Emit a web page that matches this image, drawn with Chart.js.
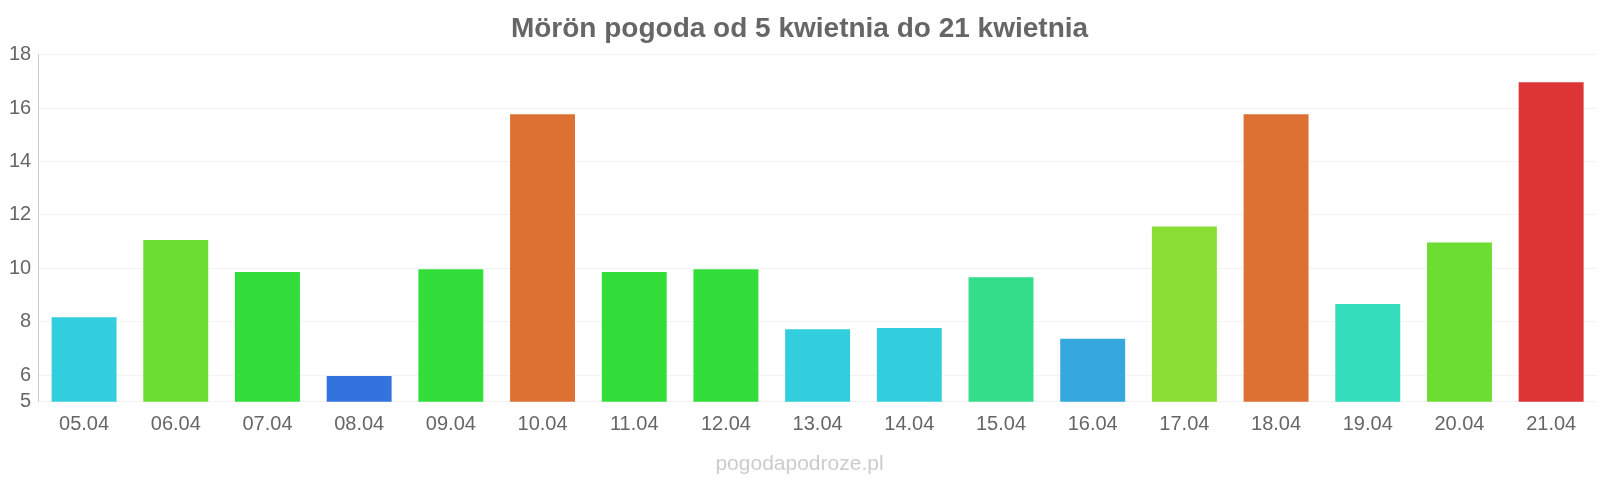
<!DOCTYPE html>
<html>
<head>
<meta charset="utf-8">
<script src="https://cdn.jsdelivr.net/npm/chart.js@4/dist/chart.umd.min.js"></script>
<style>
  html, body { margin: 0; padding: 0; background: #fff; overflow: hidden; }
  #wrap { width: 1600px; height: 480px; position: relative; }
  canvas { display: block; }
</style>
</head>
<body>
<div id="wrap"><canvas id="chart"></canvas></div>
<script>
// dates and temperatures
const days = ['05.04', '06.04', '07.04', '08.04', '09.04', '10.04', '11.04', '12.04', '13.04',
              '14.04', '15.04', '16.04', '17.04', '18.04', '19.04', '20.04', '21.04'];
const temps = [8.2, 11.1, 9.9, 6.0, 10.0, 15.8, 9.9, 10.0, 7.75, 7.8, 9.7, 7.4, 11.6, 15.8, 8.7, 11.0, 17.0];
const barColors = ['#33cedd', '#6bdd33', '#33dd3a', '#3373dd', '#33dd3a', '#dd7033', '#33dd3a', '#33dd3a', '#33cedd',
                   '#33cedd', '#33dd8a', '#35a8dd', '#8add33', '#dd7033', '#33ddbb', '#6bdd33', '#dd3535'];
const yTicks = [5, 6, 8, 10, 12, 14, 16, 18];

const ctx = document.getElementById('chart').getContext('2d');
new Chart(ctx, {
    type: 'bar',
    data: {
        labels: days,
        datasets: [{
            data: temps,
            backgroundColor: barColors,
            borderColor: 'rgba(255,255,255,0.35)',
            borderWidth: 1,
            barPercentage: 0.73,
            categoryPercentage: 1.0
        }]
    },
    options: {
        responsive: true,
        maintainAspectRatio: false,
        animation: false,
        layout: { padding: { left: 2, right: 3, top: 0, bottom: 0 } },
        plugins: {
            legend: { display: false },
            tooltip: { enabled: false },
            title: {
                display: true,
                text: 'Mörön pogoda od 5 kwietnia do 21 kwietnia',
                color: '#666',
                font: { family: 'Liberation Sans, Arial, sans-serif', size: 28, weight: 'bold' },
                padding: { top: 12, bottom: 9 }
            },
            subtitle: {
                display: true,
                position: 'bottom',
                text: 'pogodapodroze.pl',
                color: '#ccc',
                font: { family: 'Liberation Sans, Arial, sans-serif', size: 21 },
                padding: { top: 12, bottom: 3 }
            }
        },
        scales: {
            x: {
                grid: { display: false },
                border: { display: false },
                ticks: {
                    color: '#666',
                    font: { family: 'Liberation Sans, Arial, sans-serif', size: 20 }
                }
            },
            y: {
                min: 5,
                max: 18,
                afterBuildTicks: function(axis) {
                    axis.ticks = yTicks.map(v => ({ value: v }));
                },
                grid: { color: '#f3f3f3', drawTicks: false },
                border: { display: true, color: '#ccc' },
                ticks: {
                    color: '#666',
                    padding: 7,
                    font: { family: 'Liberation Sans, Arial, sans-serif', size: 20 }
                }
            }
        }
    }
});
</script>
</body>
</html>
